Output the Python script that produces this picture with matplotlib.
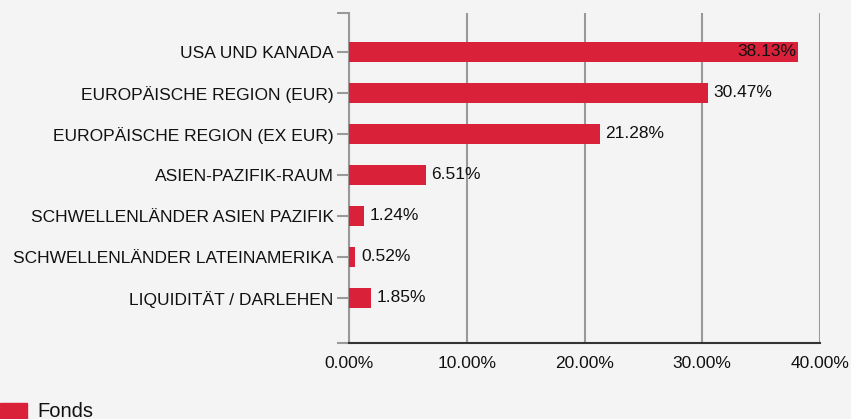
import matplotlib
matplotlib.use("Agg")
import matplotlib.pyplot as plt
from matplotlib.patches import Rectangle
from matplotlib.ticker import FuncFormatter

# regions and weights (percent), top to bottom
regions = ["USA UND KANADA", "EUROPÄISCHE REGION (EUR)", "EUROPÄISCHE REGION (EX EUR)",
           "ASIEN-PAZIFIK-RAUM", "SCHWELLENLÄNDER ASIEN PAZIFIK",
           "SCHWELLENLÄNDER LATEINAMERIKA", "LIQUIDITÄT / DARLEHEN"]
weights = [38.13, 30.47, 21.28, 6.51, 1.24, 0.52, 1.85]
xticks = [0, 10, 20, 30, 40]
series_name = "Fonds"

bar_col = "#d9213a"
bg = "#f4f4f4"
txt = "#111111"
fs = 12.5

plt.rcParams['font.family'] = ['Liberation Sans', 'DejaVu Sans']

fig = plt.figure(figsize=(8.51, 4.19), dpi=100, facecolor=bg)
ax = fig.add_axes([349/851, 76/419, 471/851, 330/419], facecolor=bg)

ypos = list(range(len(regions)))
ax.barh(ypos, weights, height=0.5, color=bar_col, zorder=3)

ax.set_xlim(0, 40)
ax.set_ylim(len(regions) - 1 + 1.1, -0.95)

# value labels, the widest one sits inside its bar
for y, v in zip(ypos, weights):
    label = "%.2f%%" % v
    if v > 35:
        ax.text(v - 0.15, y, label, ha="right", va="center", fontsize=fs, color=txt, zorder=4)
    else:
        ax.text(v + 0.5, y, label, ha="left", va="center", fontsize=fs, color=txt, zorder=4)

ax.set_yticks(ypos)
ax.set_yticklabels(regions, fontsize=fs, color=txt)
ax.set_yticks([-0.95, len(regions) - 1 + 1.1], minor=True)
ax.tick_params(axis="y", which="both", length=9, width=1.5, color="#999999", pad=2)

ax.set_xticks(xticks)
ax.xaxis.set_major_formatter(FuncFormatter(lambda v, p: "%.2f%%" % v))
ax.tick_params(axis="x", length=0, pad=9, labelsize=fs, labelcolor=txt)

ax.grid(axis="x", color="#999999", linewidth=1.5, zorder=1)
ax.spines["top"].set_visible(False)
ax.spines["right"].set_visible(False)
ax.spines["left"].set_color("#999999")
ax.spines["left"].set_linewidth(1.5)
ax.spines["bottom"].set_color("#333333")
ax.spines["bottom"].set_linewidth(1.5)

# legend, sitting at the bottom edge like in the original
fig.patches.append(Rectangle((0, 0), 27/851, 16/419, transform=fig.transFigure,
                             color=bar_col, figure=fig))
fig.text(37/851, 2.5/419, series_name, fontsize=14.5, color=txt, va="baseline", ha="left")

fig.savefig("out.png", dpi=100, facecolor=bg)
